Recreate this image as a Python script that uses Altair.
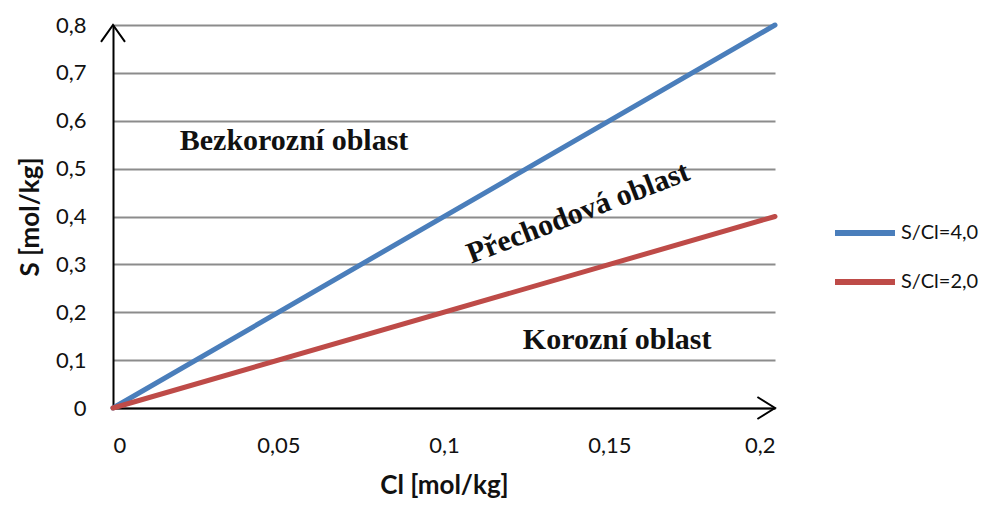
import altair as alt
import pandas as pd

# Data
cl = [0.0, 0.2]
s_ratio4 = [0.0, 0.8]
s_ratio2 = [0.0, 0.4]
series = ["S/Cl=4,0", "S/Cl=2,0"]
colors = ["#4A7EBB", "#BE4B48"]
x_ticks = [0, 0.05, 0.1, 0.15, 0.2]
y_ticks = [0, 0.1, 0.2, 0.3, 0.4, 0.5, 0.6, 0.7, 0.8]

ann_text = ["Bezkorozní oblast", "Korozní oblast"]
ann_x = [0.0547, 0.1523]
ann_y = [0.558, 0.142]
rot_text = ["Přechodová oblast"]
rot_x = [0.1405]
rot_y = [0.407]

rows = []
for xv, yv in zip(cl, s_ratio4):
    rows.append({"Cl": xv, "S": yv, "series": series[0]})
for xv, yv in zip(cl, s_ratio2):
    rows.append({"Cl": xv, "S": yv, "series": series[1]})
df = pd.DataFrame(rows)

label_expr = "replace(toString(datum.value), '.', ',')"
FONT = "Lato"

xscale = alt.Scale(domain=[0, 0.2], nice=False, zero=True)
yscale = alt.Scale(domain=[0, 0.8], nice=False)

lines = alt.Chart(df).mark_line(strokeWidth=5, strokeCap="round").encode(
    x=alt.X("Cl:Q", scale=xscale,
            axis=alt.Axis(title="Cl [mol/kg]", values=x_ticks, labelExpr=label_expr,
                          grid=False, ticks=False, domainColor="black", domainWidth=2,
                          labelPadding=27, titlePadding=16)),
    y=alt.Y("S:Q", scale=yscale,
            axis=alt.Axis(title="S [mol/kg]", values=y_ticks, labelExpr=label_expr,
                          grid=True, gridColor="#8C8C8C", gridWidth=2,
                          ticks=False, domainColor="black", domainWidth=2,
                          labelPadding=27, titlePadding=12)),
    color=alt.Color("series:N", scale=alt.Scale(domain=series, range=colors),
                    sort=series,
                    legend=alt.Legend(title=None, orient="none", legendX=719, legendY=175,
                                      symbolType="stroke", symbolSize=3600,
                                      symbolStrokeWidth=6, labelFontSize=20,
                                      labelFont=FONT, labelColor="#111",
                                      labelOffset=3, rowPadding=4, padding=0)),
)

ann_df = pd.DataFrame({"t": ann_text, "x": ann_x, "y": ann_y})
ann = alt.Chart(ann_df).mark_text(font="Liberation Serif", fontSize=30, fontWeight="bold",
                                  color="#111").encode(
    x=alt.X("x:Q", scale=xscale), y=alt.Y("y:Q", scale=yscale), text="t:N")

rot_df = pd.DataFrame({"t": rot_text, "x": rot_x, "y": rot_y})
rot = alt.Chart(rot_df).mark_text(font="Liberation Serif", fontSize=30, fontWeight="bold",
                                  color="#111", angle=339).encode(
    x=alt.X("x:Q", scale=xscale), y=alt.Y("y:Q", scale=yscale), text="t:N")

# axis arrowheads
arr_x = pd.DataFrame({"x": [0.2], "y": [0.0]})
arrow_x = alt.Chart(arr_x).mark_point(shape="M-1.6,-1L0,0L-1.6,1", filled=False,
                                      stroke="black", strokeWidth=2, size=484,
                                      opacity=1).encode(
    x=alt.X("x:Q", scale=xscale), y=alt.Y("y:Q", scale=yscale))
arr_y = pd.DataFrame({"x": [0.0], "y": [0.8]})
arrow_y = alt.Chart(arr_y).mark_point(shape="M-1,1.4L0,0L1,1.4", filled=False,
                                      stroke="black", strokeWidth=2, size=576,
                                      opacity=1).encode(
    x=alt.X("x:Q", scale=xscale), y=alt.Y("y:Q", scale=yscale))

chart = alt.layer(lines, ann, rot, arrow_x, arrow_y).properties(
    width=662, height=383,
    autosize=alt.AutoSizeParams(type="none"),
    padding={"left": 105, "top": 17, "right": 208, "bottom": 90},
).configure_view(stroke=None).configure_axis(
    labelFont=FONT, labelFontSize=22, labelColor="#111",
    titleFont=FONT, titleFontSize=26, titleFontWeight="bold", titleColor="#111",
)

chart.save("out.html", embed_options={"renderer": "svg", "actions": False})
